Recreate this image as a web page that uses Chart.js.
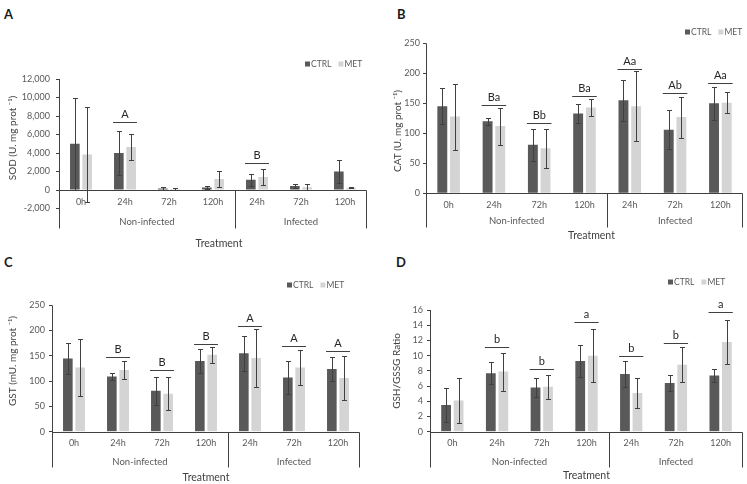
<!DOCTYPE html>
<html>
<head>
<meta charset="utf-8">
<script src="https://cdn.jsdelivr.net/npm/chart.js@4.4.0/dist/chart.umd.min.js"></script>
<style>
  body { margin: 0; background: #fff; width: 747px; height: 484px; position: relative; overflow: hidden; }
  canvas { position: absolute; }
  .tag { position: absolute; font: bold 13px Lato, "Open Sans", sans-serif; color: #1a1a1a; line-height: 1; }
</style>
</head>
<body>
<div class="tag" style="left:4px;top:8px">A</div>
<div class="tag" style="left:397px;top:8px">B</div>
<div class="tag" style="left:4px;top:256px">C</div>
<div class="tag" style="left:396px;top:256px">D</div>
<canvas id="cA" width="373" height="252" style="left:0;top:0"></canvas>
<canvas id="cB" width="372" height="240" style="left:375px;top:0"></canvas>
<canvas id="cC" width="373" height="242" style="left:0;top:242px"></canvas>
<canvas id="cD" width="372" height="242" style="left:375px;top:242px"></canvas>
<script>
const timepoints = ['0h', '24h', '72h', '120h', '24h', '72h', '120h'];
const infectionGroups = ['Non-infected', 'Infected'];
const groupSizes = [4, 3];
const seriesNames = ['CTRL', 'MET'];

// A - SOD
const sodCtrl = [5000, 4000, 170, 280, 1100, 420, 2000];
const sodCtrlErr = [5000, 2350, 190, 180, 650, 250, 1200];
const sodMet = [3850, 4650, 110, 1200, 1400, 300, 250];
const sodMetErr = [5100, 1450, 60, 900, 850, 300, 30];
const sodLetters = ['', 'A', '', '', 'B', '', ''];
const sodLetterLevel = [null, 7320, null, null, 2900, null, null];
const sodRange = [-2000, 12000, 2000];

// B - CAT
const catCtrl = [145, 120, 81, 133, 155, 106, 150];
const catCtrlErr = [30, 6, 27, 16, 34, 32, 27];
const catMet = [128, 112, 75, 143, 145, 127, 151];
const catMetErr = [55, 31, 32, 14, 58, 34, 18];
const catLetters = ['', 'Ba', 'Bb', 'Ba', 'Aa', 'Ab', 'Aa'];
const catLetterLevel = [null, 148, 117, 162, 208, 168, 184];
const catRange = [0, 250, 50];

// C - GST
const gstCtrl = [145, 109, 81, 140, 155, 107, 124];
const gstCtrlErr = [30, 7, 28, 24, 34, 32, 24];
const gstMet = [127, 122, 75, 152, 146, 127, 106];
const gstMetErr = [56, 17, 33, 16, 58, 34, 44];
const gstLetters = ['', 'B', 'B', 'B', 'A', 'A', 'A'];
const gstLetterLevel = [null, 147, 123, 173, 209, 169, 160];
const gstRange = [0, 250, 50];

// D - GSH/GSSG
const gshCtrl = [3.5, 7.7, 5.8, 9.3, 7.6, 6.4, 7.4];
const gshCtrlErr = [2.2, 1.4, 1.2, 2.1, 1.7, 1.0, 0.9];
const gshMet = [4.1, 7.9, 5.9, 10.0, 5.1, 8.8, 11.8];
const gshMetErr = [2.9, 2.5, 1.6, 3.5, 2.0, 2.3, 2.9];
const gshLetters = ['', 'b', 'b', 'a', 'b', 'b', 'a'];
const gshLetterLevel = [null, 11.1, 8.2, 14.4, 10.0, 11.6, 15.7];
const gshRange = [0, 16, 2];

const FONT = 'Lato, "Open Sans", sans-serif';
const DARK = '#595959', LIGHT = '#d4d4d4', LINE = '#404040', TEXT = '#595959';

// draws error bars, letters, the two-level category axis, titles and legend
const excelLook = {
  id: 'excelLook',
  afterDatasetsDraw(chart, args, p) {
    const { ctx, chartArea: area, scales: { x, y } } = chart;
    const metas = chart.data.datasets.map((ds, k) => chart.getDatasetMeta(k).data);
    ctx.save();
    ctx.strokeStyle = LINE;
    ctx.lineWidth = 1;
    chart.data.datasets.forEach((ds, k) => {
      metas[k].forEach((bar, i) => {
        const v = ds.data[i], e = ds.errors[i];
        const cx = Math.round(bar.x) + 0.5;
        const t = Math.round(y.getPixelForValue(v + e)) + 0.5;
        const b = Math.round(y.getPixelForValue(v - e)) + 0.5;
        ctx.beginPath();
        ctx.moveTo(cx, t); ctx.lineTo(cx, b);
        ctx.moveTo(cx - 2.5, t); ctx.lineTo(cx + 2.5, t);
        ctx.moveTo(cx - 2.5, b); ctx.lineTo(cx + 2.5, b);
        ctx.stroke();
      });
    });

    // significance lines + letters
    ctx.fillStyle = '#262626';
    ctx.font = '11px ' + FONT;
    ctx.textAlign = 'center';
    ctx.textBaseline = 'alphabetic';
    p.letters.forEach((txt, i) => {
      if (!txt) return;
      const l = metas[0][i], r = metas[1][i];
      const x0 = l.x - l.width / 2 - 1, x1 = r.x + r.width / 2 + 1;
      const ly = Math.round(y.getPixelForValue(p.levels[i])) + 0.5;
      ctx.beginPath();
      ctx.moveTo(x0, ly); ctx.lineTo(x1, ly);
      ctx.stroke();
      ctx.fillText(txt, (x0 + x1) / 2, ly - 5);
    });
    ctx.restore();
  },
  afterDraw(chart, args, p) {
    const { ctx, chartArea: area, scales: { x, y } } = chart;
    const zeroY = Math.round(y.getPixelForValue(0)) + 0.5;
    const boxY = zeroY + p.boxDy;
    const left = Math.round(area.left) + 0.5, right = Math.round(area.right) - 0.5;
    ctx.save();
    ctx.strokeStyle = LINE;
    ctx.lineWidth = 1;
    ctx.beginPath();
    ctx.moveTo(left, area.top); ctx.lineTo(left, boxY);
    ctx.moveTo(left, zeroY); ctx.lineTo(right, zeroY);
    ctx.moveTo(right, zeroY); ctx.lineTo(right, boxY);
    let idx = 0;
    groupSizes.forEach((n, g) => {
      idx += n;
      if (g < groupSizes.length - 1) {
        const dx = Math.round((x.getPixelForValue(idx - 1) + x.getPixelForValue(idx)) / 2) + 0.5;
        ctx.moveTo(dx, zeroY); ctx.lineTo(dx, boxY);
      }
    });
    ctx.stroke();

    ctx.fillStyle = TEXT;
    ctx.textAlign = 'center';
    ctx.textBaseline = 'middle';
    ctx.font = '9px ' + FONT;
    timepoints.forEach((t, i) => ctx.fillText(t, x.getPixelForValue(i), zeroY + p.catDy));
    ctx.font = '9.5px ' + FONT;
    let start = 0;
    infectionGroups.forEach((g, k) => {
      const end = start + groupSizes[k] - 1;
      ctx.fillText(g, (x.getPixelForValue(start) + x.getPixelForValue(end)) / 2, zeroY + p.groupDy);
      start = end + 1;
    });

    ctx.fillStyle = LINE;
    ctx.font = '10.5px ' + FONT;
    ctx.fillText('Treatment', (area.left + area.right) / 2 + p.titleDx, zeroY + p.titleDy);

    ctx.save();
    ctx.translate(p.yTitle[0], p.yTitle[1]);
    ctx.rotate(-Math.PI / 2);
    ctx.font = '10px ' + FONT;
    ctx.fillText(p.yLabel, 0, 0);
    ctx.restore();

    // legend
    ctx.font = '8.5px ' + FONT;
    ctx.textAlign = 'left';
    let lx = p.legend[0];
    chart.data.datasets.forEach(ds => {
      ctx.fillStyle = ds.backgroundColor;
      ctx.fillRect(lx, p.legend[1] - 2.5, 5, 5);
      ctx.fillStyle = TEXT;
      ctx.fillText(ds.label, lx + 6, p.legend[1]);
      lx += 6 + ctx.measureText(ds.label).width + 7;
    });
    ctx.restore();
  }
};

function drawPanel(id, ctrl, ctrlErr, met, metErr, letters, levels, range, yLabel, look) {
  new Chart(document.getElementById(id), {
    type: 'bar',
    data: {
      labels: timepoints,
      datasets: [
        { label: seriesNames[0], data: ctrl, errors: ctrlErr, backgroundColor: DARK },
        { label: seriesNames[1], data: met, errors: metErr, backgroundColor: LIGHT }
      ]
    },
    options: {
      responsive: false,
      animation: false,
      layout: { padding: { left: 0, top: look.pad[0], right: look.pad[1], bottom: look.pad[2] } },
      datasets: { bar: { categoryPercentage: 0.56, barPercentage: 0.78 } },
      plugins: {
        legend: { display: false },
        tooltip: { enabled: false },
        excelLook: Object.assign({ letters: letters, levels: levels, yLabel: yLabel }, look)
      },
      scales: {
        x: { display: false },
        y: {
          min: range[0], max: range[1],
          ticks: {
            stepSize: range[2],
            color: TEXT,
            padding: look.tickPad,
            font: { family: FONT, size: 9 },
            callback: v => v.toLocaleString('en-US')
          },
          grid: { drawOnChartArea: false, drawTicks: true, tickLength: 3, color: LINE },
          border: { display: false },
          afterFit: s => { s.width = look.axisWidth; }
        }
      }
    },
    plugins: [excelLook]
  });
}

drawPanel('cA', sodCtrl, sodCtrlErr, sodMet, sodMetErr, sodLetters, sodLetterLevel, sodRange,
  'SOD (U. mg prot \u207B\u00B9)',
  { pad: [79, 6, 43.5], axisWidth: 59, tickPad: 6, legend: [305, 64], yTitle: [13, 138],
    catDy: 12, groupDy: 31, boxDy: 38, titleDy: 53, titleDx: 6 });

drawPanel('cB', catCtrl, catCtrlErr, catMet, catMetErr, catLetters, catLetterLevel, catRange,
  'CAT (U. mg prot \u207B\u00B9)',
  { pad: [43.3, 4, 46.7], axisWidth: 51, tickPad: 3, legend: [310, 32], yTitle: [23, 131],
    catDy: 12, groupDy: 27, boxDy: 34, titleDy: 42, titleDx: 7 });

drawPanel('cC', gstCtrl, gstCtrlErr, gstMet, gstMetErr, gstLetters, gstLetterLevel, gstRange,
  'GST (mU. mg prot \u207B\u00B9)',
  { pad: [63.3, 13, 52.3], axisWidth: 52, tickPad: 4, legend: [287, 43], yTitle: [13, 119],
    catDy: 11, groupDy: 29, boxDy: 35, titleDy: 45, titleDx: 0 });

drawPanel('cD', gshCtrl, gshCtrlErr, gshMet, gshMetErr, gshLetters, gshLetterLevel, gshRange,
  'GSH/GSSG Ratio',
  { pad: [68, 4, 52.3], axisWidth: 55, tickPad: 4, legend: [293, 40], yTitle: [22, 129],
    catDy: 11, groupDy: 29, boxDy: 35, titleDy: 43, titleDx: 0 });
</script>
</body>
</html>
